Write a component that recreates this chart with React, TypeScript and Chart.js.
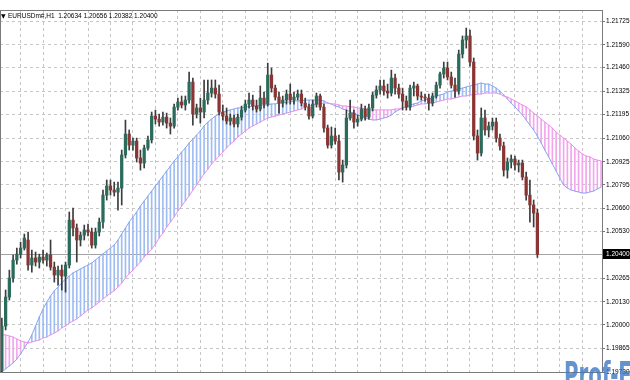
import React, { useEffect, useRef } from "react";
import { Chart, registerables } from "chart.js";

Chart.register(...registerables);

const SYMBOL = "EURUSDm#";
const PERIOD = "H1";

const OPEN = [
  1.19742, 1.19992, 1.20157, 1.20265, 1.20367, 1.20401, 1.20435, 1.20481, 1.20339, 1.20379,
  1.20356, 1.20384, 1.20367, 1.20396, 1.20327, 1.20282, 1.20310, 1.20276, 1.20339, 1.20594,
  1.20549, 1.20481, 1.20509, 1.20538, 1.20526, 1.20452, 1.20526, 1.20583, 1.20736, 1.20788,
  1.20765, 1.20753, 1.20776, 1.20964, 1.21083, 1.21020, 1.21043, 1.20947, 1.20918, 1.21003,
  1.21049, 1.21185, 1.21168, 1.21151, 1.21179, 1.21145, 1.21128, 1.21236, 1.21265, 1.21248,
  1.21276, 1.21378, 1.21196, 1.21231, 1.21208, 1.21276, 1.21316, 1.21344, 1.21310, 1.21208,
  1.21185, 1.21157, 1.21174, 1.21140, 1.21179, 1.21219, 1.21253, 1.21276, 1.21242, 1.21225,
  1.21287, 1.21253, 1.21418, 1.21344, 1.21293, 1.21259, 1.21276, 1.21310, 1.21276, 1.21293,
  1.21310, 1.21259, 1.21236, 1.21185, 1.21253, 1.21299, 1.21236, 1.21117, 1.21020, 1.21072,
  1.21043, 1.20867, 1.20907, 1.21174, 1.21202, 1.21151, 1.21168, 1.21225, 1.21179, 1.21231,
  1.21304, 1.21333, 1.21356, 1.21327, 1.21316, 1.21401, 1.21344, 1.21310, 1.21270, 1.21236,
  1.21344, 1.21356, 1.21299, 1.21293, 1.21287, 1.21259, 1.21299, 1.21361, 1.21424, 1.21458,
  1.21407, 1.21361, 1.21327, 1.21537, 1.21617, 1.21640, 1.21492, 1.21072, 1.20975, 1.21174,
  1.21106, 1.21128, 1.21151, 1.21060, 1.21015, 1.20878, 1.20924, 1.20941, 1.20907, 1.20918,
  1.20839, 1.20736, 1.20680, 1.20634,
];

const HIGH = [
  1.20038, 1.20197, 1.20310, 1.20396, 1.20435, 1.20469, 1.20515, 1.20526, 1.20424, 1.20413,
  1.20401, 1.20424, 1.20407, 1.20481, 1.20356, 1.20333, 1.20339, 1.20356, 1.20640, 1.20663,
  1.20572, 1.20526, 1.20566, 1.20572, 1.20549, 1.20549, 1.20606, 1.20765, 1.20822, 1.20822,
  1.20810, 1.20810, 1.20992, 1.21162, 1.21106, 1.21060, 1.21060, 1.20992, 1.21020, 1.21072,
  1.21208, 1.21219, 1.21196, 1.21208, 1.21202, 1.21174, 1.21253, 1.21287, 1.21299, 1.21299,
  1.21435, 1.21401, 1.21253, 1.21287, 1.21390, 1.21390, 1.21390, 1.21390, 1.21361, 1.21248,
  1.21231, 1.21196, 1.21191, 1.21196, 1.21242, 1.21276, 1.21316, 1.21304, 1.21276, 1.21356,
  1.21321, 1.21486, 1.21458, 1.21361, 1.21321, 1.21299, 1.21333, 1.21367, 1.21321, 1.21333,
  1.21333, 1.21287, 1.21253, 1.21276, 1.21316, 1.21310, 1.21253, 1.21134, 1.21123, 1.21117,
  1.21077, 1.20935, 1.21219, 1.21276, 1.21219, 1.21191, 1.21253, 1.21242, 1.21253, 1.21321,
  1.21356, 1.21390, 1.21390, 1.21367, 1.21446, 1.21424, 1.21367, 1.21344, 1.21299, 1.21361,
  1.21378, 1.21367, 1.21321, 1.21310, 1.21310, 1.21316, 1.21378, 1.21435, 1.21492, 1.21492,
  1.21435, 1.21401, 1.21560, 1.21640, 1.21685, 1.21674, 1.21515, 1.21106, 1.21231, 1.21219,
  1.21151, 1.21174, 1.21174, 1.21083, 1.21037, 1.20947, 1.20964, 1.20958, 1.20935, 1.20935,
  1.20867, 1.20822, 1.20708, 1.20656,
];

const LOW = [
  1.19708, 1.19970, 1.20140, 1.20242, 1.20344, 1.20379, 1.20424, 1.20310, 1.20299, 1.20333,
  1.20322, 1.20350, 1.20333, 1.20310, 1.20242, 1.20225, 1.20197, 1.20185, 1.20322, 1.20504,
  1.20356, 1.20447, 1.20481, 1.20504, 1.20435, 1.20435, 1.20504, 1.20549, 1.20708, 1.20736,
  1.20731, 1.20651, 1.20680, 1.20947, 1.20992, 1.20992, 1.20924, 1.20878, 1.20890, 1.20992,
  1.21032, 1.21140, 1.21128, 1.21134, 1.21117, 1.21083, 1.21117, 1.21219, 1.21231, 1.21219,
  1.21259, 1.21134, 1.21174, 1.21145, 1.21174, 1.21253, 1.21293, 1.21287, 1.21191, 1.21162,
  1.21140, 1.21134, 1.21123, 1.21123, 1.21162, 1.21208, 1.21231, 1.21219, 1.21208, 1.21214,
  1.21231, 1.21242, 1.21321, 1.21276, 1.21202, 1.21236, 1.21253, 1.21253, 1.21253, 1.21276,
  1.21242, 1.21219, 1.21168, 1.21174, 1.21236, 1.21219, 1.21094, 1.21003, 1.21003, 1.21026,
  1.20822, 1.20810, 1.20890, 1.21162, 1.21117, 1.21128, 1.21157, 1.21162, 1.21168, 1.21214,
  1.21287, 1.21310, 1.21304, 1.21287, 1.21299, 1.21310, 1.21287, 1.21219, 1.21219, 1.21219,
  1.21299, 1.21276, 1.21276, 1.21270, 1.21219, 1.21242, 1.21287, 1.21344, 1.21401, 1.21390,
  1.21344, 1.21293, 1.21310, 1.21515, 1.21571, 1.21469, 1.21049, 1.20935, 1.20958, 1.21077,
  1.21066, 1.21106, 1.21037, 1.20992, 1.20844, 1.20833, 1.20890, 1.20878, 1.20867, 1.20822,
  1.20708, 1.20583, 1.20555, 1.20382,
];

const CLOSE = [
  1.19992, 1.20157, 1.20265, 1.20367, 1.20401, 1.20435, 1.20492, 1.20339, 1.20379, 1.20356,
  1.20384, 1.20367, 1.20396, 1.20327, 1.20282, 1.20310, 1.20276, 1.20339, 1.20594, 1.20549,
  1.20481, 1.20509, 1.20538, 1.20526, 1.20452, 1.20526, 1.20583, 1.20736, 1.20788, 1.20765,
  1.20753, 1.20776, 1.20964, 1.21083, 1.21020, 1.21043, 1.20947, 1.20918, 1.21003, 1.21049,
  1.21185, 1.21168, 1.21151, 1.21179, 1.21145, 1.21128, 1.21236, 1.21265, 1.21248, 1.21276,
  1.21378, 1.21196, 1.21231, 1.21208, 1.21276, 1.21316, 1.21344, 1.21310, 1.21208, 1.21185,
  1.21157, 1.21174, 1.21140, 1.21179, 1.21219, 1.21253, 1.21276, 1.21242, 1.21225, 1.21287,
  1.21253, 1.21418, 1.21344, 1.21293, 1.21259, 1.21276, 1.21310, 1.21276, 1.21293, 1.21310,
  1.21259, 1.21236, 1.21185, 1.21253, 1.21299, 1.21236, 1.21117, 1.21020, 1.21072, 1.21043,
  1.20867, 1.20907, 1.21174, 1.21202, 1.21151, 1.21168, 1.21225, 1.21179, 1.21231, 1.21304,
  1.21333, 1.21356, 1.21327, 1.21316, 1.21401, 1.21344, 1.21310, 1.21270, 1.21236, 1.21344,
  1.21356, 1.21299, 1.21293, 1.21287, 1.21259, 1.21299, 1.21361, 1.21424, 1.21458, 1.21407,
  1.21361, 1.21327, 1.21537, 1.21617, 1.21640, 1.21492, 1.21072, 1.20975, 1.21174, 1.21106,
  1.21128, 1.21151, 1.21060, 1.21015, 1.20878, 1.20924, 1.20941, 1.20907, 1.20918, 1.20839,
  1.20736, 1.20680, 1.20634, 1.20400,
];

// Ichimoku Senkou Span A (blue) and Span B (violet), shifted 26 bars forward
const SPAN_A = [
  1.19731, 1.19749, 1.19766, 1.19783, 1.19805, 1.19834, 1.19868, 1.19902, 1.19942, 1.19993,
  1.20044, 1.20089, 1.20129, 1.20163, 1.20192, 1.20214, 1.20237, 1.20260, 1.20277, 1.20294,
  1.20305, 1.20317, 1.20328, 1.20339, 1.20351, 1.20368, 1.20385, 1.20402, 1.20419, 1.20436,
  1.20453, 1.20481, 1.20515, 1.20549, 1.20583, 1.20612, 1.20640, 1.20674, 1.20703, 1.20731,
  1.20759, 1.20788, 1.20816, 1.20844, 1.20873, 1.20901, 1.20930, 1.20953, 1.20981, 1.21004,
  1.21032, 1.21055, 1.21077, 1.21100, 1.21129, 1.21151, 1.21168, 1.21185, 1.21197, 1.21208,
  1.21214, 1.21220, 1.21225, 1.21231, 1.21231, 1.21237, 1.21237, 1.21242, 1.21242, 1.21248,
  1.21248, 1.21248, 1.21254, 1.21254, 1.21259, 1.21259, 1.21265, 1.21265, 1.21271, 1.21271,
  1.21271, 1.21276, 1.21276, 1.21276, 1.21276, 1.21276, 1.21271, 1.21259, 1.21254, 1.21242,
  1.21237, 1.21225, 1.21220, 1.21208, 1.21202, 1.21191, 1.21185, 1.21174, 1.21168, 1.21163,
  1.21163, 1.21168, 1.21174, 1.21180, 1.21191, 1.21208, 1.21220, 1.21231, 1.21237, 1.21248,
  1.21254, 1.21259, 1.21271, 1.21276, 1.21282, 1.21288, 1.21299, 1.21305, 1.21310, 1.21322,
  1.21327, 1.21333, 1.21339, 1.21344, 1.21350, 1.21356, 1.21361, 1.21367, 1.21373, 1.21367,
  1.21367, 1.21356, 1.21344, 1.21327, 1.21305, 1.21282, 1.21259, 1.21237, 1.21214, 1.21191,
  1.21163, 1.21134, 1.21106, 1.21072, 1.21032, 1.20992, 1.20953, 1.20913, 1.20873, 1.20833,
  1.20793, 1.20776, 1.20765, 1.20759, 1.20754, 1.20748, 1.20748, 1.20754, 1.20759, 1.20771,
  1.20782,
];

const SPAN_B = [
  1.19942, 1.19942, 1.19936, 1.19930, 1.19919, 1.19908, 1.19902, 1.19896, 1.19902, 1.19908,
  1.19913, 1.19925, 1.19930, 1.19942, 1.19953, 1.19964, 1.19982, 1.19993, 1.20010, 1.20021,
  1.20033, 1.20050, 1.20067, 1.20084, 1.20095, 1.20112, 1.20129, 1.20146, 1.20163, 1.20180,
  1.20192, 1.20214, 1.20237, 1.20266, 1.20288, 1.20311, 1.20334, 1.20356, 1.20385, 1.20407,
  1.20430, 1.20458, 1.20492, 1.20521, 1.20555, 1.20583, 1.20612, 1.20646, 1.20674, 1.20703,
  1.20731, 1.20765, 1.20793, 1.20827, 1.20856, 1.20884, 1.20913, 1.20935, 1.20958, 1.20981,
  1.21004, 1.21026, 1.21043, 1.21066, 1.21083, 1.21100, 1.21117, 1.21129, 1.21140, 1.21151,
  1.21163, 1.21174, 1.21180, 1.21185, 1.21191, 1.21197, 1.21202, 1.21208, 1.21214, 1.21220,
  1.21225, 1.21237, 1.21242, 1.21248, 1.21254, 1.21254, 1.21259, 1.21259, 1.21254, 1.21254,
  1.21248, 1.21242, 1.21242, 1.21237, 1.21237, 1.21231, 1.21231, 1.21225, 1.21220, 1.21220,
  1.21220, 1.21220, 1.21220, 1.21220, 1.21220, 1.21225, 1.21225, 1.21231, 1.21237, 1.21237,
  1.21242, 1.21248, 1.21254, 1.21254, 1.21259, 1.21259, 1.21265, 1.21271, 1.21276, 1.21282,
  1.21282, 1.21288, 1.21293, 1.21299, 1.21299, 1.21305, 1.21305, 1.21310, 1.21310, 1.21316,
  1.21316, 1.21316, 1.21316, 1.21310, 1.21299, 1.21293, 1.21282, 1.21271, 1.21259, 1.21248,
  1.21237, 1.21220, 1.21202, 1.21185, 1.21168, 1.21151, 1.21134, 1.21117, 1.21094, 1.21077,
  1.21060, 1.21043, 1.21026, 1.21004, 1.20987, 1.20970, 1.20958, 1.20953, 1.20941, 1.20935,
  1.20930,
];

const PRICE_TICKS = [
  1.19730, 1.19865, 1.20000, 1.20130, 1.20265, 1.20400, 1.20530, 1.20660,
  1.20795, 1.20925, 1.21060, 1.21195, 1.21325, 1.21460, 1.21590, 1.21725,
];

const Y_MIN = 1.197257;
const Y_MAX = 1.217875;
const X_MIN = -0.5;
const X_MAX = 160.25;
const GRID_FIRST_BAR = 5;
const GRID_EVERY = 6;

const BULL = "#2a6b5c";
const BEAR = "#8a3434";
const WICK = "#3c3c3c";
const HATCH_BLUE = "#9fbcf3";
const HATCH_PINK = "#f2a6ee";
const LINE_BLUE = "#86a6ef";
const LINE_PINK = "#ee8eea";
const GRID = "#c6c6c6";
const FONT = '"Liberation Sans", Arial, sans-serif';

export default function App() {
  const ref = useRef<HTMLCanvasElement>(null);

  useEffect(() => {
    document.body.style.margin = "0";
    const canvas = ref.current;
    if (!canvas) return;

    const last = CLOSE.length - 1;

    const overlay = {
      id: "mt4overlay",
      beforeDatasetsDraw(chart: any) {
        const { ctx, chartArea: a, scales } = chart;
        const py = Math.round(scales.y.getPixelForValue(CLOSE[last])) + 0.5;
        ctx.save();
        ctx.strokeStyle = "#a3a3a3";
        ctx.lineWidth = 1;
        ctx.beginPath();
        ctx.moveTo(a.left, py);
        ctx.lineTo(a.right, py);
        ctx.stroke();
        ctx.restore();
      },
      afterDraw(chart: any) {
        const { ctx, chartArea: a, scales, width } = chart;
        ctx.save();
        // frame
        ctx.strokeStyle = "#7a7a7a";
        ctx.lineWidth = 1;
        ctx.strokeRect(a.left + 0.5, a.top + 0.5, a.right - a.left, a.bottom - a.top - 1);
        // current price box
        const py = Math.round(scales.y.getPixelForValue(CLOSE[last]));
        ctx.fillStyle = "#000";
        ctx.fillRect(a.right + 1, py - 5, width - a.right - 1, 10);
        ctx.fillStyle = "#fff";
        ctx.font = `6.5px ${FONT}`;
        ctx.textBaseline = "middle";
        ctx.textAlign = "left";
        ctx.fillText(CLOSE[last].toFixed(5), a.right + 4, py + 0.5);
        // title
        ctx.fillStyle = "#000";
        ctx.font = `6px "DejaVu Sans", ${FONT}`;
        ctx.fillText("\u25BC", a.left + 1, a.top + 6.5);
        ctx.font = `6.5px ${FONT}`;
        const title = `${SYMBOL},${PERIOD}  ${OPEN[last].toFixed(5)} ${HIGH[last].toFixed(5)} ${LOW[last].toFixed(5)} ${CLOSE[last].toFixed(5)}`;
        ctx.fillText(title, a.left + 8, a.top + 6.5);
        // watermark
        ctx.translate(a.right - 38, a.bottom + 14);
        ctx.scale(0.55, 1);
        ctx.globalAlpha = 0.8;
        ctx.fillStyle = "#3f78c2";
        ctx.font = `bold 36px "DejaVu Sans", ${FONT}`;
        ctx.textBaseline = "alphabetic";
        ctx.fillText("Prof-FX", 0, 0);
        ctx.restore();
      },
    };

    const chart = new Chart(canvas, {
      type: "bar",
      data: {
        datasets: [
          {
            type: "bar",
            label: "Cloud",
            data: SPAN_A.map((v, i) => ({ x: i, y: [v, SPAN_B[i]] })) as any,
            backgroundColor: (c: any) =>
              SPAN_A[c.dataIndex] >= SPAN_B[c.dataIndex] ? HATCH_BLUE : HATCH_PINK,
            barThickness: 1,
            borderWidth: 0,
            grouped: false,
            order: 10,
          },
          {
            type: "line",
            label: "Senkou Span A",
            data: SPAN_A.map((v, i) => ({ x: i, y: v })) as any,
            borderColor: LINE_BLUE,
            borderWidth: 1,
            pointRadius: 0,
            fill: false,
            tension: 0,
            order: 9,
          },
          {
            type: "line",
            label: "Senkou Span B",
            data: SPAN_B.map((v, i) => ({ x: i, y: v })) as any,
            borderColor: LINE_PINK,
            borderWidth: 1,
            pointRadius: 0,
            fill: false,
            tension: 0,
            order: 8,
          },
          {
            type: "bar",
            label: "Wicks",
            data: LOW.map((v, i) => ({ x: i, y: [v, HIGH[i]] })) as any,
            backgroundColor: WICK,
            barThickness: 1,
            borderWidth: 0,
            grouped: false,
            order: 3,
          },
          {
            type: "bar",
            label: "Bodies",
            data: OPEN.map((v, i) => ({ x: i, y: [v, CLOSE[i]] })) as any,
            backgroundColor: (c: any) =>
              CLOSE[c.dataIndex] >= OPEN[c.dataIndex] ? BULL : BEAR,
            barThickness: 2.6,
            borderWidth: 0,
            minBarLength: 1,
            grouped: false,
            order: 2,
          },
        ],
      },
      options: {
        animation: false,
        responsive: false,
        devicePixelRatio: 1,
        events: [],
        layout: { padding: { top: 10, left: 0, right: 0, bottom: 0 } },
        plugins: {
          legend: { display: false },
          tooltip: { enabled: false },
          title: { display: false },
        },
        scales: {
          x: {
            type: "linear",
            min: X_MIN,
            max: X_MAX,
            offset: false,
            grid: { color: GRID, drawTicks: false, offset: false, lineWidth: 1 },
            border: { display: false, dash: [3, 3] },
            ticks: { display: false },
            afterBuildTicks: (s: any) => {
              const t: any[] = [];
              for (let v = GRID_FIRST_BAR; v <= X_MAX; v += GRID_EVERY) t.push({ value: v });
              s.ticks = t;
            },
            afterFit: (s: any) => {
              s.height = 7;
            },
          },
          y: {
            type: "linear",
            position: "right",
            min: Y_MIN,
            max: Y_MAX,
            grid: { color: GRID, tickLength: 3, tickColor: "#777", lineWidth: 1 },
            border: { display: false, dash: [3, 3] },
            ticks: {
              color: "#000",
              padding: 1,
              autoSkip: false,
              font: { family: FONT, size: 6.5 },
              callback: (v: any) => Number(v).toFixed(5),
            },
            afterBuildTicks: (s: any) => {
              s.ticks = PRICE_TICKS.map((v) => ({ value: v }));
            },
            afterFit: (s: any) => {
              s.width = 28;
            },
          },
        },
      } as any,
      plugins: [overlay],
    });

    return () => chart.destroy();
  }, []);

  return (
    <div style={{ width: 630, height: 380, background: "#fff" }}>
      <canvas ref={ref} width={630} height={380} style={{ display: "block" }} />
    </div>
  );
}
